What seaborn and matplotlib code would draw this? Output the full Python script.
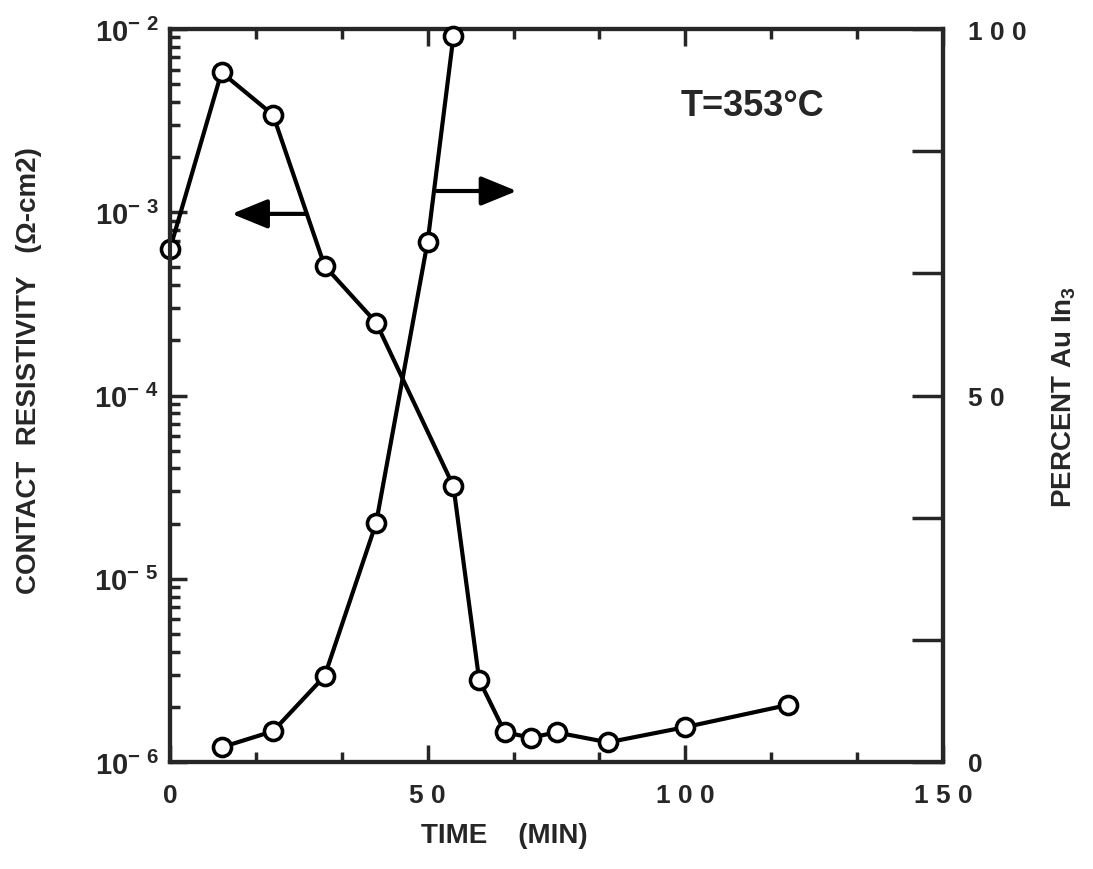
import numpy as np
import seaborn as sns
import matplotlib.pyplot as plt
from matplotlib.ticker import FixedLocator, LogLocator, NullFormatter, FuncFormatter, MultipleLocator

# contact resistivity (left, log axis)
time_rho = [0, 10, 20, 30, 40, 55, 60, 65, 70, 75, 85, 100, 120]
rho = [6.3e-4, 5.8e-3, 3.4e-3, 5.1e-4, 2.5e-4, 3.2e-5, 2.8e-6,
       1.45e-6, 1.36e-6, 1.45e-6, 1.28e-6, 1.55e-6, 2.05e-6]

# percent Au3In (right axis)
time_au = [10, 20, 30, 40, 50, 55]
pct_au = [2.0, 4.2, 11.7, 32.6, 71.0, 99.0]

x_ticks = [0, 50, 100, 150]
x_tick_labels = ['0', '5 0', '1 0 0', '1 5 0']
right_ticks = [0, 100 / 6, 200 / 6, 50, 400 / 6, 500 / 6, 100]
right_tick_labels = ['0', '', '', '5 0', '', '', '1 0 0']

sns.set_style("ticks")
plt.rcParams['font.family'] = ['Liberation Sans', 'DejaVu Sans']
plt.rcParams['font.weight'] = 'bold'
plt.rcParams['mathtext.fontset'] = 'custom'
plt.rcParams['mathtext.rm'] = 'Liberation Sans:bold'
plt.rcParams['mathtext.bf'] = 'Liberation Sans:bold'
plt.rcParams['axes.linewidth'] = 3

FS = 19

fig = plt.figure(figsize=(10.93, 8.70), dpi=100)
ax = fig.add_axes([0.1555, 0.123, 0.7073, 0.8425])
ax.set_yscale('log')

line_kw = dict(color='black', lw=3, marker='o', markersize=13,
               markerfacecolor='white', markeredgecolor='black',
               markeredgewidth=2.6, clip_on=False, zorder=5)

sns.lineplot(x=time_rho, y=rho, ax=ax, **line_kw)
ax.set_ylim(1e-6, 1e-2)
ax.set_xlim(0, 150)

ax2 = ax.twinx()
sns.lineplot(x=time_au, y=pct_au, ax=ax2, **line_kw)
ax2.set_ylim(0, 100)
ax2.set_xlim(0, 150)

# x axis
ax.xaxis.set_major_locator(FixedLocator(x_ticks))
ax.set_xticklabels(x_tick_labels, fontsize=FS, fontweight='bold')
ax.xaxis.set_minor_locator(MultipleLocator(50 / 3))
ax.tick_params(axis='x', which='both', direction='in', top=True, width=2.5, pad=15)
ax.tick_params(axis='x', which='major', length=12)
ax.tick_params(axis='x', which='minor', length=7)

# left log axis
ax.yaxis.set_major_locator(LogLocator(base=10, numticks=10))
ax.yaxis.set_minor_locator(LogLocator(base=10, subs=range(2, 10), numticks=20))
ax.yaxis.set_minor_formatter(NullFormatter())
ax.yaxis.set_major_formatter(FuncFormatter(
    lambda v, p: r'$\mathbf{10^{-\ %d}}$' % round(-np.log10(v))))
ax.tick_params(axis='y', which='both', direction='in', right=False, width=2.5,
               labelsize=FS + 2, pad=8)
ax.tick_params(axis='y', which='major', length=12)
ax.tick_params(axis='y', which='minor', length=7)

# right axis
ax2.set_yticks(right_ticks)
ax2.set_yticklabels(right_tick_labels, fontsize=FS, fontweight='bold')
ax2.tick_params(axis='y', direction='in', length=22, width=2.5, pad=18)
for s in ax2.spines.values():
    s.set_linewidth(3)

ax.set_xlabel('TIME    (MIN)', fontsize=FS + 1, fontweight='bold')
ax.xaxis.set_label_coords(0.433, -0.082)
ax.set_ylabel('CONTACT  RESISTIVITY   (\u03a9-cm2)', fontsize=FS + 1, fontweight='bold')
ax.yaxis.set_label_coords(-0.165, 0.535)
ax2.set_ylabel(r'PERCENT Au In$_\mathbf{3}$', fontsize=FS + 1, fontweight='bold')
ax2.yaxis.set_label_coords(1.138, 0.5)

ax.text(0.753, 0.896, 'T=353\u00b0C', transform=ax.transAxes, fontsize=26,
        fontweight='bold', ha='center', va='center')

arrow = dict(arrowstyle='-|>,head_length=1.1,head_width=0.45', lw=3,
             color='black', mutation_scale=20, shrinkA=0, shrinkB=0)
ax.annotate('', xy=(12.0, 9.8e-4), xytext=(26.5, 9.8e-4), arrowprops=arrow)
ax2.annotate('', xy=(67.3, 77.9), xytext=(51.8, 77.9), arrowprops=arrow)

fig.savefig('out.png', dpi=100)
